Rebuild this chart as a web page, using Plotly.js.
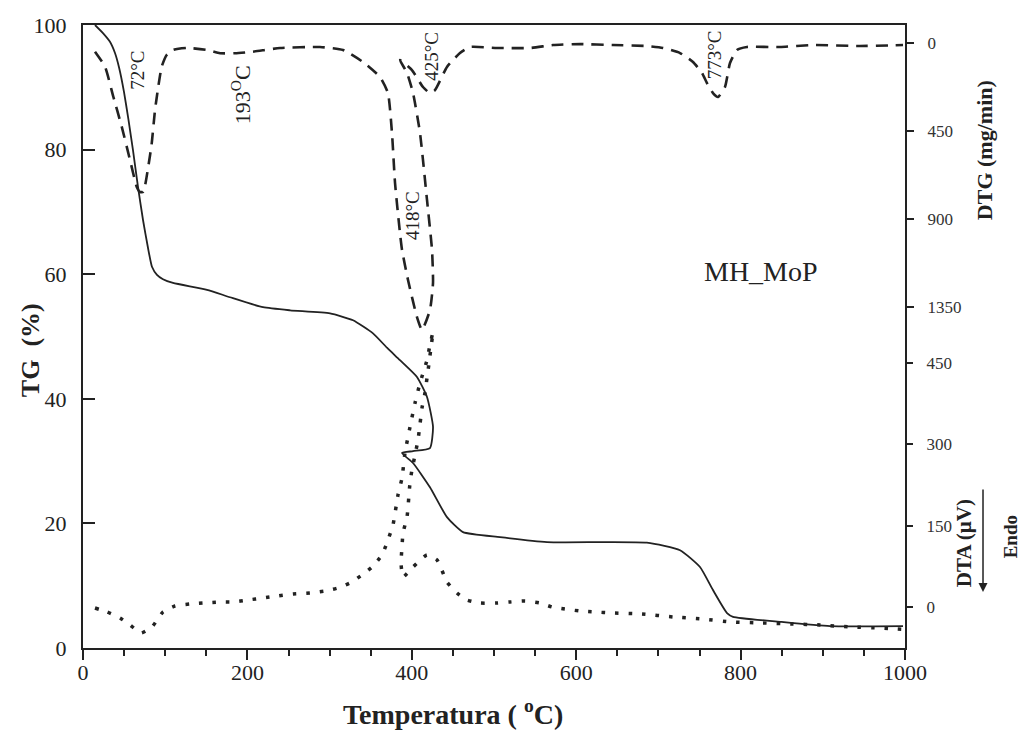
<!DOCTYPE html>
<html>
<head>
<meta charset="utf-8">
<script src="https://cdn.plot.ly/plotly-3.0.1.min.js"></script>
<style>html,body{margin:0;padding:0;background:#fff;}#chart{width:1020px;height:738px;}</style>
</head>
<body>
<div id="chart"></div>
<script>
// TG (%) curve
var tgT = [14.6,24.3,32.8,38.9,44.0,49.8,55.3,60.8,66.9,73.0,79.1,83.9,90.0,97.3,109.5,150.9,178.8,219,252,300.5,328.5,352.8,369.8,385.6,406.3,418.5,425.8,422.1,401.5,388.1,401.5,422.1,442.8,462.3,507.3,564.5,686,726.3,750.6,766.4,783.5,790.8,847.9,908.8,997.6];
var tgV = [100.0,98.7,97.3,95.5,93.1,89.3,84.8,79.9,74.0,68.7,64.2,61.2,59.9,59.2,58.6,57.5,56.3,54.7,54.2,53.7,52.6,50.5,48.2,46.2,43.5,40.3,35.5,32.1,31.6,31.3,29.7,25.8,21.0,18.6,17.8,17.0,16.9,15.7,13.0,9.3,5.6,5.0,4.2,3.5,3.5];

// DTG (mg/min) curve
var dtgT = [14.6,26.8,36.9,47.1,57.2,65.3,69.3,73.4,79.4,83.6,87.6,91.6,95.7,101.8,109.9,126.5,150.9,166.7,184.9,206.8,239.7,288.3,316.3,340.6,361.3,371,375.9,379.6,385.6,388.1,395.4,406.3,412.4,422.1,425.8,424.6,418.5,410,401.5,394.2,385.6,400.2,413.6,422.1,428.2,442.8,458.6,470.8,503.6,543.8,571.8,604.6,644.8,686.1,705.6,726.3,742.1,753,759.1,766.4,772.5,781,787.1,795.6,807.8,848,888,945,997.6];
var dtgV = [43,120,274,427,598,735,762,761,632,513,342,222,120,60,34,24,34,51,51,43,24,19,34,96,173,255,460,716,972,1059,1213,1403,1469,1367,1228,1059,803,460,255,152,86,137,224,255,240,121,50,19,24,24,9,4,9,14,24,50,96,152,204,255,275,224,101,34,19,19,9,14,9];

// DTA (µV) curve
var dtaT = [14.6,29.2,45.0,57.2,70.6,83.9,97.3,111.9,130.2,146,166.7,182.5,200.7,219,236,255.5,276.2,294.4,310.2,324.8,339.4,351.6,363.7,371,377.1,383.2,388.1,391.7,397.8,403.9,410,418.5,422.1,425.8,423.4,421,418.5,416,412.4,410,407.5,403.9,400.2,397.8,394.2,389.3,388.1,386.9,389.3,401.5,418.5,430.7,442.8,455,467.2,483,503.6,519.5,537.7,556,570.6,586.4,604.6,622.9,643.6,680,717.8,753,789.5,826,862.5,896.6,933,969.6,990.3,1000];
var dtaV = [-2.4,-9.8,-20.9,-33.8,-48.6,-37.5,-9.8,1.3,5.0,6.8,8.7,8.7,12.4,16.1,19.8,23.5,25.3,29.0,34.6,43.8,58.6,73.4,95.6,123.4,151.1,206.6,238,284.2,332.3,376.7,413.7,456.2,484,508,480,450.7,423,395,367.5,338,308,280.6,253,229,166,136.3,110.5,80.9,55,73.4,95.6,86.4,45.7,25.3,12.4,6.8,6.8,8.7,10.5,6.8,-0.6,-4.3,-8.0,-9.8,-11.6,-13.5,-19.0,-22.7,-28.3,-30.1,-32.0,-33.8,-37.5,-39.4,-41.2,-42];

var xTicks = [0,200,400,600,800,1000];
var tgTicks = [0,20,40,60,80,100];
var dtgTicks = [0,450,900,1350];
var dtaTicks = [0,150,300,450];

var serif = 'Liberation Serif, Times New Roman, serif';
var ink = '#222';

var traces = [
  {x: tgT, y: tgV, type: 'scatter', mode: 'lines', yaxis: 'y',
   line: {color: ink, width: 1.8, shape: 'spline', smoothing: 0.5}, hoverinfo: 'skip'},
  {x: dtgT, y: dtgV, type: 'scatter', mode: 'lines', yaxis: 'y2',
   line: {color: ink, width: 2.6, dash: '12px,8px', shape: 'spline', smoothing: 0.5}, hoverinfo: 'skip'},
  {x: dtaT, y: dtaV, type: 'scatter', mode: 'lines', yaxis: 'y3',
   line: {color: ink, width: 3.5, dash: '3.5px,10px', shape: 'spline', smoothing: 0.5}, hoverinfo: 'skip'}
];

function rot(text, x, y, size) {
  return {text: text, x: x, y: y, xref: 'x', yref: 'y', showarrow: false, textangle: -90,
          xanchor: 'center', yanchor: 'middle',
          font: {family: serif, size: size, color: ink}};
}
function prot(text, x, y, size) {
  return {text: text, x: x, y: y, xref: 'paper', yref: 'paper', showarrow: false, textangle: -90,
          xanchor: 'center', yanchor: 'middle',
          font: {family: serif, size: size, color: ink}};
}

var layout = {
  width: 1020, height: 738,
  margin: {l: 83, r: 115, t: 25, b: 90},
  paper_bgcolor: '#fff', plot_bgcolor: '#fff',
  showlegend: false,
  xaxis: {
    range: [0, 1000], tickvals: xTicks, ticktext: xTicks.map(String),
    ticks: 'outside', ticklen: 10, tickwidth: 2, tickcolor: ink,
    minor: {dtick: 50, ticks: 'outside', ticklen: 6, tickwidth: 2, tickcolor: ink},
    showline: true, linewidth: 2, linecolor: ink, mirror: true,
    showgrid: false, zeroline: false,
    tickfont: {family: serif, size: 22, color: ink},
    ticklabelstandoff: -6
  },
  yaxis: {
    range: [0, 100], tickvals: tgTicks, ticktext: tgTicks.map(String),
    ticks: 'inside', ticklen: 12, tickwidth: 2, tickcolor: ink,
    showline: true, linewidth: 2, linecolor: ink, mirror: true,
    showgrid: false, zeroline: false,
    tickfont: {family: serif, size: 22, color: ink},
    ticklabelstandoff: 10
  },
  yaxis2: {
    overlaying: 'y', side: 'right', anchor: 'x',
    range: [3099, -93.8], tickvals: dtgTicks, ticktext: dtgTicks.map(String),
    ticks: 'outside', ticklen: 7, tickwidth: 2, tickcolor: ink,
    showline: true, linewidth: 2, linecolor: ink,
    showgrid: false, zeroline: false,
    tickfont: {family: serif, size: 17, color: '#333'},
    ticklabelstandoff: 10
  },
  yaxis3: {
    overlaying: 'y', side: 'right', anchor: 'x',
    range: [-76.4, 1075.8], tickvals: dtaTicks, ticktext: dtaTicks.map(String),
    ticks: 'outside', ticklen: 7, tickwidth: 2, tickcolor: ink,
    showline: false, showgrid: false, zeroline: false,
    tickfont: {family: serif, size: 17, color: '#333'},
    ticklabelstandoff: 10
  },
  annotations: [
    rot('72°C', 66.9, 92.8, 19),
    rot('193<sup>O</sup>C', 192.2, 88.9, 22),
    rot('418°C', 400.2, 69.5, 19),
    rot('425°C', 424.6, 94.9, 19),
    rot('773°C', 767.6, 95.3, 19),
    {text: 'MH_MoP', x: 824.8, y: 60.4, xref: 'x', yref: 'y', showarrow: false,
     xanchor: 'center', yanchor: 'middle', font: {family: serif, size: 28, color: ink}},
    {text: '<b>Temperatura ( <sup>o</sup>C)</b>', x: 0.45, y: -0.103, xref: 'paper', yref: 'paper', showarrow: false,
     xanchor: 'center', yanchor: 'middle', font: {family: serif, size: 28, color: ink}},
    prot('<b>TG  (%)</b>', -0.0645, 0.478, 26),
    prot('<b>DTG (mg/min)</b>', 1.096, 0.799, 22),
    prot('<b>DTA (µV)</b>', 1.072, 0.1685, 21),
    prot('<b>Endo</b>', 1.128, 0.178, 19),
    {text: '', x: 1.0949, y: 0.0899, xref: 'paper', yref: 'paper', showarrow: true,
     ax: 0, ay: -104, arrowhead: 2, arrowsize: 1.2, arrowwidth: 1.5, arrowcolor: ink, standoff: 0}
  ]
};

Plotly.newPlot('chart', traces, layout, {staticPlot: true, displayModeBar: false});
</script>
</body>
</html>
